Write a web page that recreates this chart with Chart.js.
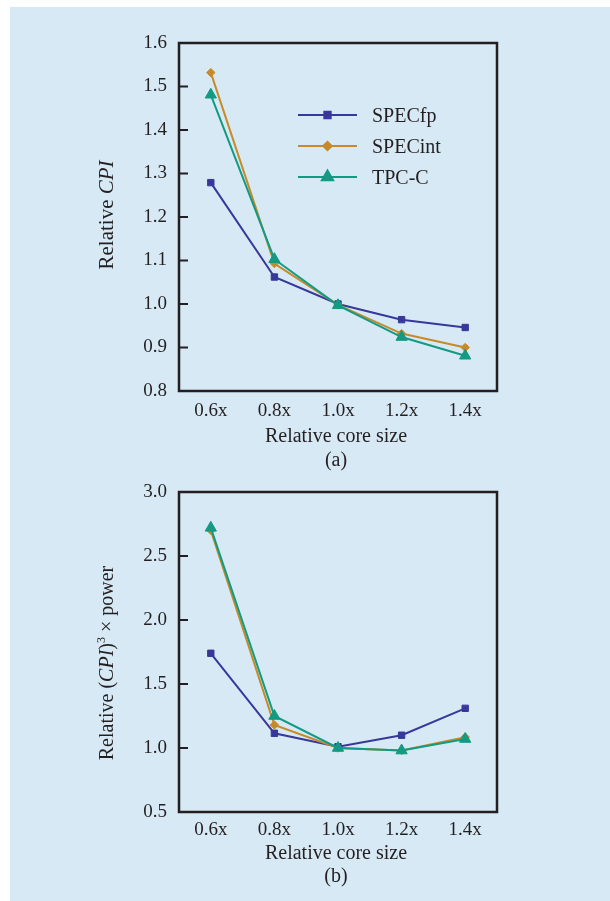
<!DOCTYPE html>
<html lang="en">
<head>
<meta charset="UTF-8">
<title>Relative CPI vs relative core size</title>
<script src="https://cdn.jsdelivr.net/npm/chart.js"></script>
<style>
  body {
    margin: 0;
    width: 610px;
    height: 901px;
    background: #ffffff;
    position: relative;
    overflow: hidden;
  }
  .panel {
    position: absolute;
    left: 10px; top: 7px; right: 0; bottom: 0;
    background: #d6e9f5;
  }
  canvas { position: absolute; left: 0; }
  #cpiChart { top: 0; }
  #powerChart { top: 468px; }
</style>
</head>
<body>
<div class="panel"></div>
<canvas id="cpiChart" width="610" height="480"></canvas>
<canvas id="powerChart" width="610" height="433"></canvas>
<script>
// categories and series
const coreSizes = ['0.6x', '0.8x', '1.0x', '1.2x', '1.4x'];
const seriesNames = ['SPECfp', 'SPECint', 'TPC-C'];

// (a) relative CPI
const cpiSpecFp  = [1.279, 1.062, 1.0, 0.964, 0.946];
const cpiSpecInt = [1.532, 1.093, 0.998, 0.932, 0.900];
const cpiTpcC    = [1.481, 1.103, 0.997, 0.924, 0.881];
const cpiAxis    = [0.8, 1.6, 0.1];   // min, max, step

// (b) relative CPI^3 x power
const powSpecFp  = [1.74, 1.115, 1.01, 1.10, 1.31];
const powSpecInt = [2.70, 1.18, 1.0, 0.98, 1.085];
const powTpcC    = [2.72, 1.25, 1.0, 0.98, 1.07];
const powAxis    = [0.5, 3.0, 0.5];

const INK = '#231f20';
const SERIF = '"Liberation Serif", "Times New Roman", serif';
const looks = [
  { color: '#38389a', pointStyle: 'rect',     radius: 4.5 },
  { color: '#c78a2a', pointStyle: 'rectRot',  radius: 4.2 },
  { color: '#129a82', pointStyle: 'triangle', radius: 6.5 }
];

function makeDatasets(seriesList) {
  return seriesList.map((values, i) => ({
    label: seriesNames[i],
    data: values,
    borderColor: looks[i].color,
    backgroundColor: looks[i].color,
    pointBackgroundColor: looks[i].color,
    pointBorderColor: looks[i].color,
    pointStyle: looks[i].pointStyle,
    pointRadius: looks[i].radius,
    pointBorderWidth: 1,
    borderWidth: 2,
    tension: 0,
    order: seriesList.length - i
  }));
}

// frame, inward ticks, axis titles and legend
function makeDecor(cfg) {
  return {
    id: 'decor',
    afterDraw(chart) {
      const { ctx, chartArea: a, scales: { y } } = chart;
      ctx.save();
      ctx.strokeStyle = INK;
      ctx.lineWidth = 2;
      y.ticks.forEach(t => {
        const py = y.getPixelForValue(t.value);
        ctx.beginPath();
        ctx.moveTo(a.left, py);
        ctx.lineTo(a.left + 9, py);
        ctx.stroke();
      });
      ctx.lineWidth = 2.5;
      ctx.strokeRect(a.left, a.top, a.right - a.left, a.bottom - a.top);

      // x title lines
      ctx.fillStyle = INK;
      ctx.textAlign = 'center';
      ctx.textBaseline = 'middle';
      ctx.font = '20px ' + SERIF;
      cfg.xTitle.forEach((line, i) => {
        ctx.fillText(line, (a.left + a.right) / 2 - 2, a.bottom + cfg.xTitleOffsets[i]);
      });

      // y title with mixed styles
      ctx.save();
      ctx.translate(a.left - 66, (a.top + a.bottom) / 2 + cfg.yTitleShift);
      ctx.rotate(-Math.PI / 2);
      ctx.textAlign = 'left';
      ctx.textBaseline = 'alphabetic';
      let total = 0;
      cfg.yTitle.forEach(seg => {
        ctx.font = seg.font;
        total += ctx.measureText(seg.text).width;
      });
      let x = -total / 2;
      cfg.yTitle.forEach(seg => {
        ctx.font = seg.font;
        ctx.fillText(seg.text, x, seg.rise || 0);
        x += ctx.measureText(seg.text).width;
      });
      ctx.restore();

      if (cfg.legend) {
        chart.data.datasets.forEach((ds, i) => {
          const ly = a.top + 72 + i * 31;
          const lx = a.left + 119;
          ctx.strokeStyle = ds.borderColor;
          ctx.lineWidth = 2;
          ctx.beginPath();
          ctx.moveTo(lx, ly);
          ctx.lineTo(lx + 59, ly);
          ctx.stroke();
          ctx.fillStyle = ds.borderColor;
          Chart.helpers.drawPoint(ctx, {
            pointStyle: ds.pointStyle, radius: ds.pointRadius, borderWidth: 1, rotation: 0
          }, lx + 29.5, ly);
          ctx.fillStyle = INK;
          ctx.font = '20px ' + SERIF;
          ctx.textAlign = 'left';
          ctx.textBaseline = 'middle';
          ctx.fillText(ds.label, lx + 74, ly + 2);
        });
      }
      ctx.restore();
    }
  };
}

function makeChart(id, seriesList, axis, tickPad, topPad, decor) {
  return new Chart(document.getElementById(id), {
    type: 'line',
    data: { labels: coreSizes, datasets: makeDatasets(seriesList) },
    options: {
      responsive: false,
      animation: false,
      layout: { padding: { left: 0, right: 113, top: topPad, bottom: 0 } },
      plugins: { legend: { display: false }, tooltip: { enabled: false } },
      scales: {
        x: {
          type: 'category',
          offset: true,
          grid: { display: false, drawTicks: false },
          border: { display: false },
          ticks: { color: INK, font: { family: SERIF, size: 19 }, padding: tickPad },
          afterFit: s => { s.height = 89; }
        },
        y: {
          min: axis[0],
          max: axis[1],
          grid: { display: false, drawTicks: false },
          border: { display: false },
          ticks: {
            stepSize: axis[2],
            color: INK,
            padding: 12,
            font: { family: SERIF, size: 19 },
            callback: v => Number(v).toFixed(1)
          },
          afterFit: s => { s.width = 179; }
        }
      }
    },
    plugins: [makeDecor(decor)]
  });
}

makeChart('cpiChart', [cpiSpecFp, cpiSpecInt, cpiTpcC], cpiAxis, 8.6, 43, {
  xTitle: ['Relative core size', '(a)'],
  xTitleOffsets: [45.5, 70],
  yTitleShift: -2,
  yTitle: [
    { text: 'Relative ', font: '21px ' + SERIF },
    { text: 'CPI', font: 'italic 21px ' + SERIF }
  ],
  legend: true
});

makeChart('powerChart', [powSpecFp, powSpecInt, powTpcC], powAxis, 6.3, 24, {
  xTitle: ['Relative core size', '(b)'],
  xTitleOffsets: [41.7, 64.5],
  yTitleShift: 11,
  yTitle: [
    { text: 'Relative (', font: '20px ' + SERIF },
    { text: 'CPI', font: 'italic 20px ' + SERIF },
    { text: ')', font: '20px ' + SERIF },
    { text: '3', font: '12px ' + SERIF, rise: -8 },
    { text: ' \u00d7 power', font: '20px ' + SERIF }
  ],
  legend: false
});
</script>
</body>
</html>
